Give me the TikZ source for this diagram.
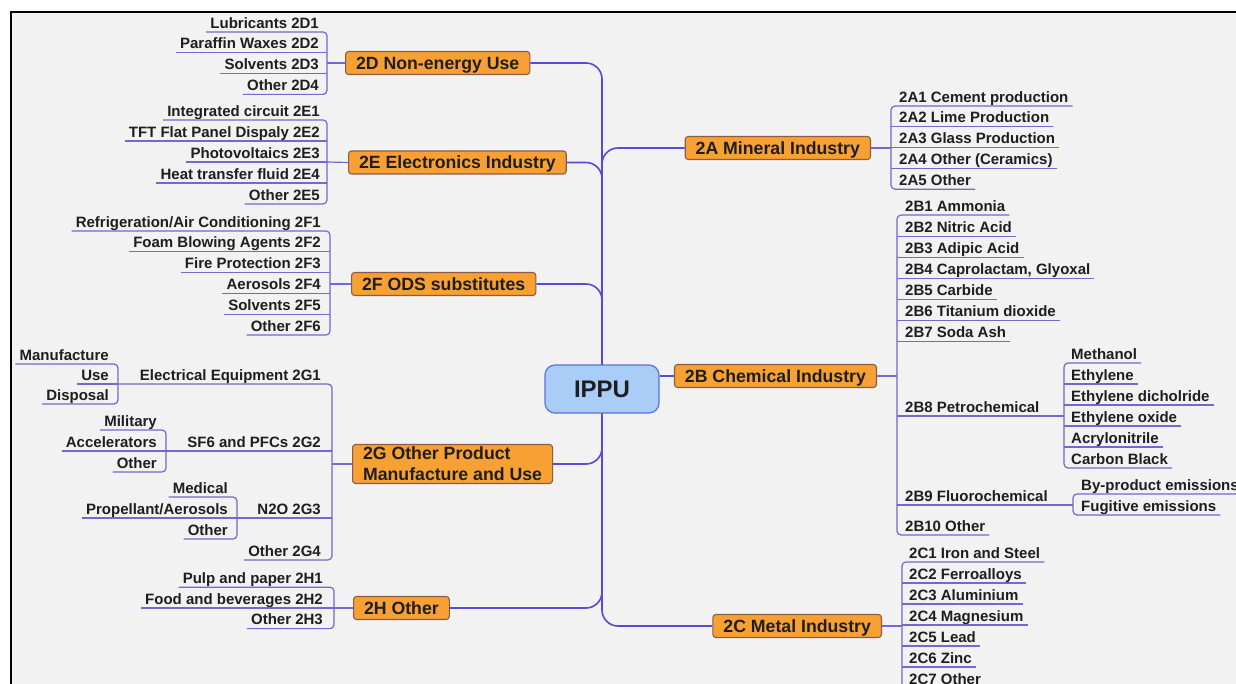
\documentclass[tikz,border=0pt]{standalone}
\usepackage{fontspec}
\setmainfont{Liberation Sans}
\usetikzlibrary{calc}

\definecolor{mmline}{RGB}{88,74,214}
\definecolor{mmleaf}{RGB}{114,104,208}
\definecolor{mmorange}{RGB}{247,160,52}
\definecolor{mmorangedraw}{RGB}{140,92,72}
\definecolor{mmblue}{RGB}{170,205,248}
\definecolor{mmbluedraw}{RGB}{92,112,226}
\definecolor{mmback}{RGB}{242,242,242}
\definecolor{mmtext}{RGB}{30,30,30}

\newcommand{\leaffont}{\fontsize{15}{18}\selectfont\bfseries}
\newcommand{\branchfont}{\fontsize{17.7}{21}\selectfont\bfseries}
\newcommand{\rootfont}{\fontsize{24}{28}\selectfont\bfseries}

\tikzset{
  root/.style={
    draw=mmbluedraw,
    fill=mmblue,
    line width=1.2pt,
    rounded corners=10pt,
    minimum width=114pt,
    minimum height=48pt,
    font=\rootfont,
    text=mmtext,
  },
  branch base/.style={
    draw=mmorangedraw,
    fill=mmorange,
    line width=1.1pt,
    rounded corners=3pt,
    font=\branchfont,
    text=mmtext,
    inner xsep=10.5pt,
  },
  branch/.style={
    branch base,
    minimum height=23pt,
    text height=12.7pt,
    text depth=0pt,
    inner ysep=0pt,
  },
  branch two/.style={
    branch base,
    align=left,
    inner ysep=2.5pt,
  },
  leaf/.style={
    font=\leaffont,
    text=mmtext,
    inner xsep=4pt,
    inner ysep=0pt,
    text height=11pt,
    text depth=3.6pt,
  },
  leaf left/.style={
    leaf,
    anchor=south east,
  },
  leaf right/.style={
    leaf,
    anchor=south west,
  },
  trunk/.style={
    draw=mmline,
    line width=1.6pt,
    rounded corners=16pt,
  },
  twig/.style={
    draw=mmleaf,
    line width=1.2pt,
  },
  bracket/.style={
    twig,
    rounded corners=4pt,
  },
}

\begin{document}
\begin{tikzpicture}[x=1pt, y=-1pt]
  \useasboundingbox (0,0) rectangle (1236,684);
  \fill[mmback] (11,12) rectangle (1240,690);
  \draw[line width=2.5pt] (11,690) -- (11,12) -- (1240,12);

  \node[root] (ippu) at (602,389) {IPPU};

  % 2D
  \node[branch, anchor=west] (d) at (345,63) {2D Non-energy Use};
  \coordinate (dB) at (327,63);
  \foreach \t [count=\i] in {Lubricants 2D1, Paraffin Waxes 2D2, Solvents 2D3, Other 2D4}
    \node[leaf left] (d\i) at (323,{11.2+20.8*\i}) {\t};
  \draw[bracket] (d1.south west) -| (dB) |- (d4.south west);
  \foreach \i in {2,3}
    \draw[twig] (d\i.south west) -- (d\i.south west -| dB);
  \draw[twig] (d.west) -- (dB);

  % 2E
  \node[branch, anchor=west] (e) at (348,162.5) {2E Electronics Industry};
  \coordinate (eB) at (327,162);
  \foreach \t [count=\i] in {Integrated circuit 2E1, TFT Flat Panel Dispaly 2E2,
      Photovoltaics 2E3, Heat transfer fluid 2E4, Other 2E5}
    \node[leaf left] (e\i) at (324,{99+21*\i}) {\t};
  \draw[bracket] (e1.south west) -| (eB) |- (e5.south west);
  \foreach \i in {2,3,4}
    \draw[twig] (e\i.south west) -- (e\i.south west -| eB);
  \draw[twig] (e.west) -- (eB);

  % 2F
  \node[branch, anchor=west] (f) at (351,284) {2F ODS substitutes};
  \coordinate (fB) at (330,284);
  \foreach \t [count=\i] in {Refrigeration/Air Conditioning 2F1, Foam Blowing Agents 2F2,
      Fire Protection 2F3, Aerosols 2F4, Solvents 2F5, Other 2F6}
    \node[leaf left] (f\i) at (325,{210.2+20.8*\i}) {\t};
  \draw[bracket] (f1.south west) -| (fB) |- (f6.south west);
  \foreach \i in {2,...,5}
    \draw[twig] (f\i.south west) -- (f\i.south west -| fB);
  \draw[twig] (f.west) -- (fB);

  % 2G
  \node[branch two, anchor=west] (g) at (352,464) {2G Other Product\\Manufacture and Use};
  \coordinate (gB) at (332,464);
  \node[leaf left] (gel) at (325,384) {Electrical Equipment 2G1};
  \node[leaf left] (gsf) at (325,451) {SF6 and PFCs 2G2};
  \node[leaf left] (gno) at (325,518) {N2O 2G3};
  \node[leaf left] (goth) at (325,560) {Other 2G4};
  \coordinate (gelB) at (118,384);
  \coordinate (gsfB) at (166,451);
  \coordinate (gnoB) at (237,518);
  \foreach \t [count=\i] in {Manufacture, Use, Disposal}
    \node[leaf left] (gel\i) at (113,{344+20*\i}) {\t};
  \foreach \t [count=\i] in {Military, Accelerators, Other}
    \node[leaf left] (gsf\i) at (161,{409+21*\i}) {\t};
  \foreach \t [count=\i] in {Medical, Propellant/Aerosols, Other}
    \node[leaf left] (gno\i) at (232,{476+21*\i}) {\t};
  \draw[bracket] (gelB) -| (gB) |- (goth.south west);
  \draw[twig] (gsfB) -- (gsfB -| gB);
  \draw[twig] (gnoB) -- (gnoB -| gB);
  \draw[twig] (g.west) -- (gB);
  \foreach \s in {gel,gsf,gno} {
    \draw[bracket] (\s1.south west) -| (\s B) |- (\s3.south west);
    \draw[twig] (\s2.south west) -- (\s B);
  }

  % 2H
  \node[branch, anchor=west] (h) at (353,608) {2H Other};
  \coordinate (hB) at (334,608);
  \foreach \t [count=\i] in {Pulp and paper 2H1, Food and beverages 2H2, Other 2H3}
    \node[leaf left] (h\i) at (327,{566.5+20.7*\i}) {\t};
  \draw[bracket] (h1.south west) -| (hB) |- (h3.south west);
  \draw[twig] (h2.south west) -- (h2.south west -| hB);
  \draw[twig] (h.west) -- (hB);

  % 2A
  \node[branch, anchor=east] (a) at (871,148) {2A Mineral Industry};
  \coordinate (aB) at (891,148);
  \foreach \t [count=\i] in {2A1 Cement production, 2A2 Lime Production,
      2A3 Glass Production, 2A4 Other (Ceramics), 2A5 Other}
    \node[leaf right] (a\i) at (895,{85.2+20.8*\i}) {\t};
  \draw[bracket] (a1.south east) -| (aB) |- (a5.south east);
  \foreach \i in {2,3,4}
    \draw[twig] (a\i.south east) -- (a\i.south east -| aB);
  \draw[twig] (a.east) -- (aB);

  % 2B
  \node[branch, anchor=east] (b) at (877,376) {2B Chemical Industry};
  \coordinate (bB) at (897,376);
  \foreach \t [count=\i] in {2B1 Ammonia, 2B2 Nitric Acid, 2B3 Adipic Acid,
      {2B4 Caprolactam, Glyoxal}, 2B5 Carbide, 2B6 Titanium dioxide, 2B7 Soda Ash}
    \node[leaf right] (b\i) at (901,{194+21.1*\i}) {\t};
  \node[leaf right] (b8) at (901,416) {2B8 Petrochemical};
  \node[leaf right] (b9) at (901,505) {2B9 Fluorochemical};
  \node[leaf right] (b10) at (901,535) {2B10 Other};
  \draw[bracket] (b1.south east) -| (bB) |- (b10.south east);
  \foreach \i in {2,...,7}
    \draw[twig] (b\i.south east) -- (b\i.south east -| bB);
  \draw[twig] (b.east) -- (bB);
  \coordinate (peB) at (1064,416);
  \foreach \t [count=\i] in {Methanol, Ethylene, Ethylene dicholride,
      Ethylene oxide, Acrylonitrile, Carbon Black}
    \node[leaf right] (pe\i) at (1067,{342+21*\i}) {\t};
  \draw[twig] (bB |- b8.south) -- (peB);
  \draw[bracket] (pe1.south east) -| (peB) |- (pe6.south east);
  \foreach \i in {2,...,5}
    \draw[twig] (pe\i.south east) -- (pe\i.south east -| peB);
  \coordinate (flB) at (1073,505);
  \node[leaf right] (fl1) at (1077,494) {By-product emissions};
  \node[leaf right] (fl2) at (1077,515) {Fugitive emissions};
  \draw[twig] (bB |- b9.south) -- (flB);
  \draw[bracket] (fl1.south east) -| (flB) |- (fl2.south east);

  % 2C
  \node[branch, anchor=east] (c) at (882,626) {2C Metal Industry};
  \coordinate (cB) at (902,626);
  \foreach \t [count=\i] in {2C1 Iron and Steel, 2C2 Ferroalloys, 2C3 Aluminium,
      2C4 Magnesium, 2C5 Lead, 2C6 Zinc, 2C7 Other}
    \node[leaf right] (c\i) at (905,{541+21*\i}) {\t};
  \draw[bracket] (c1.south east) -| (cB) |- (c7.south east);
  \foreach \i in {2,...,6}
    \draw[twig] (c\i.south east) -- (c\i.south east -| cB);
  \draw[twig] (c.east) -- (cB);

  % trunk
  \foreach \n in {d,e,f}
    \draw[trunk] (ippu.north) |- (\n.east);
  \draw[trunk] (ippu.north) |- (a.west);
  \foreach \n in {g,h}
    \draw[trunk] (ippu.south) |- (\n.east);
  \draw[trunk] (ippu.south) |- (c.west);
  \draw[trunk] (ippu.east |- b.west) -- (b.west);
\end{tikzpicture}
\end{document}
